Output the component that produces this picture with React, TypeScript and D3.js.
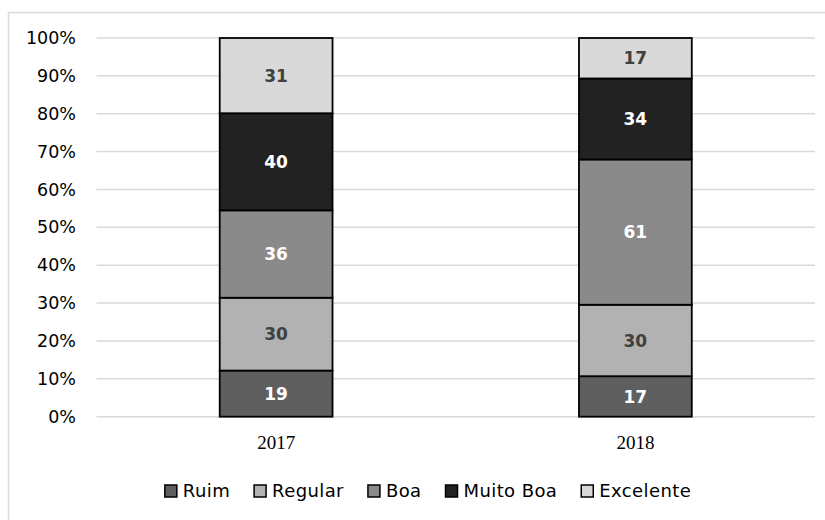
import React, { useEffect, useRef } from "react";
import * as d3 from "d3";

const years = ["2017", "2018"];
const seriesNames = ["Ruim", "Regular", "Boa", "Muito Boa", "Excelente"];
const ruim = [19, 17];
const regular = [30, 30];
const boa = [36, 61];
const muitoBoa = [40, 34];
const excelente = [31, 17];
const yTicks = [0, 0.1, 0.2, 0.3, 0.4, 0.5, 0.6, 0.7, 0.8, 0.9, 1.0];

const fills = ["#5f5f5f", "#b2b2b2", "#8a8a8a", "#222222", "#d9d9d9"];
const labelColors = ["#ffffff", "#404040", "#ffffff", "#ffffff", "#404040"];

export default function App() {
  const ref = useRef<SVGSVGElement>(null);

  useEffect(() => {
    document.body.style.margin = "0";
    const svg = d3.select(ref.current);
    svg.selectAll("*").remove();

    const left = 96.5, right = 815, top = 38, bottom = 416.7;

    const seriesValues = [ruim, regular, boa, muitoBoa, excelente];
    const rows = years.map((y, i) => {
      const r: any = { year: y };
      seriesNames.forEach((s, k) => (r[s] = seriesValues[k][i]));
      return r;
    });
    const stacked = d3.stack().keys(seriesNames).offset(d3.stackOffsetExpand)(rows);

    const x = d3.scaleBand().domain(years).range([left, right]).paddingInner(0.686).paddingOuter(0.343);
    const y = d3.scaleLinear().domain([0, 1]).range([bottom, top]);

    // chart border
    svg.append("rect").attr("x", 8.5).attr("y", 12.5).attr("width", 830).attr("height", 520)
      .attr("fill", "#fff").attr("stroke", "#d9d9d9").attr("stroke-width", 1.5);

    // gridlines
    svg.append("g").selectAll("line").data(yTicks).join("line")
      .attr("x1", left).attr("x2", right)
      .attr("y1", (d) => y(d)).attr("y2", (d) => y(d))
      .attr("stroke", "#d9d9d9").attr("stroke-width", 1.5);

    // y tick labels
    svg.append("g").selectAll("text").data(yTicks).join("text")
      .attr("x", 76).attr("y", (d) => y(d)).attr("dy", "0.35em")
      .attr("text-anchor", "end")
      .attr("font-family", "'DejaVu Sans', sans-serif").attr("font-size", 17.5)
      .attr("fill", "#000")
      .text((d) => d3.format(".0%")(d));

    // bars
    const g = svg.append("g");
    stacked.forEach((layer, k) => {
      layer.forEach((seg: any, i) => {
        const yr = years[i];
        g.append("rect")
          .attr("x", x(yr)!)
          .attr("y", y(seg[1]))
          .attr("width", x.bandwidth())
          .attr("height", y(seg[0]) - y(seg[1]))
          .attr("fill", fills[k])
          .attr("stroke", "#000").attr("stroke-width", 1.8);
      });
    });
    stacked.forEach((layer, k) => {
      layer.forEach((seg: any, i) => {
        const yr = years[i];
        g.append("text")
          .attr("x", x(yr)! + x.bandwidth() / 2)
          .attr("y", (y(seg[0]) + y(seg[1])) / 2)
          .attr("dy", "0.36em")
          .attr("text-anchor", "middle")
          .attr("font-family", "'DejaVu Sans', sans-serif").attr("font-weight", "bold")
          .attr("font-size", 17)
          .attr("fill", labelColors[k])
          .text(seriesValues[k][i]);
      });
    });

    // category labels
    svg.append("g").selectAll("text").data(years).join("text")
      .attr("x", (d) => x(d)! + x.bandwidth() / 2).attr("y", 449)
      .attr("text-anchor", "middle")
      .attr("font-family", "'Liberation Serif', serif").attr("font-size", 19)
      .attr("fill", "#000")
      .text((d) => d);

    // legend
    const lg = svg.append("g");
    const items = lg.selectAll("g").data(seriesNames).join("g");
    items.append("rect").attr("x", 0).attr("y", -6).attr("width", 12).attr("height", 12)
      .attr("fill", (_d, i) => fills[i]).attr("stroke", "#000").attr("stroke-width", 1.5);
    items.append("text").attr("x", 18).attr("y", 0).attr("dy", "0.35em")
      .attr("font-family", "'DejaVu Sans', sans-serif").attr("font-size", 18)
      .attr("letter-spacing", 0.4)
      .attr("fill", "#000").text((d) => d);
    let cx = 0;
    const positions: number[] = [];
    items.each(function () {
      const t = (this as SVGGElement).querySelector("text") as SVGTextElement;
      const w = 18 + t.getComputedTextLength();
      positions.push(cx);
      cx += w + 24;
    });
    const total = cx - 24;
    const startX = 428 - total / 2;
    items.attr("transform", (_d, i) => `translate(${startX + positions[i]},491)`);
  }, []);

  return <svg ref={ref} width={825} height={520} style={{ display: "block" }} />;
}
